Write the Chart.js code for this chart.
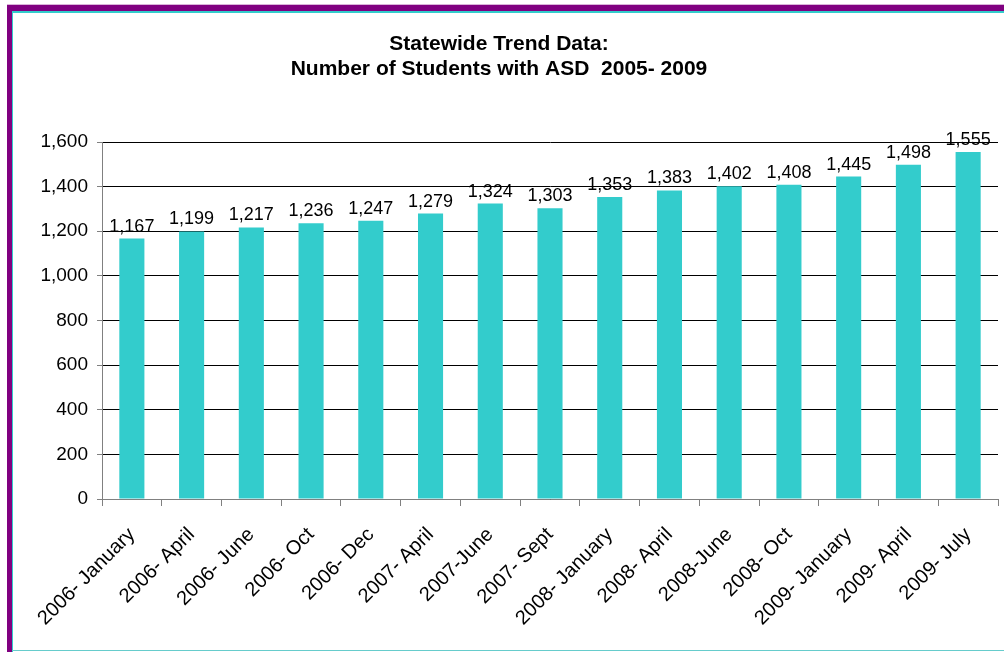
<!doctype html>
<html>
  <head>
    <meta charset="UTF-8">
    <title>Statewide Trend Data</title>
    <script src="https://cdn.jsdelivr.net/npm/chart.js@4/dist/chart.umd.min.js"></script>
    <style>
      body {
        margin: 0;
        background: #fff;
        font-family: "Liberation Sans", Arial, sans-serif;
      }
      #wrap {
        position: relative;
        width: 1004px;
        height: 652px;
        overflow: hidden;
      }
      #chart {
        position: absolute;
        left: 0;
        top: 0;
      }
      .edge { position: absolute; }
      #topLight { left: 7px; top: 4px; width: 997px; height: 1px; background: #d9b3d9; }
      #topBand { left: 7px; top: 5px; width: 997px; height: 6px; background: #800080; }
      #leftBand { left: 7px; top: 5px; width: 5px; height: 647px; background: #800080; }
      #topTeal { left: 12px; top: 11px; width: 992px; height: 2px; background: #33cccc; }
      #leftTeal { left: 12px; top: 11px; width: 1px; height: 641px; background: #33cccc; }
      #bottomTeal { left: 12px; top: 650px; width: 992px; height: 1px; background: #66cccc; }
    </style>
  </head>
  <body>
    <div id="wrap">
      <canvas id="chart" width="1004" height="652"></canvas>
      <div class="edge" id="topLight"></div>
      <div class="edge" id="topBand"></div>
      <div class="edge" id="leftBand"></div>
      <div class="edge" id="topTeal"></div>
      <div class="edge" id="leftTeal"></div>
      <div class="edge" id="bottomTeal"></div>
    </div>

    <script>
      var titleLines = ['Statewide Trend Data:', 'Number of Students with ASD  2005- 2009']
      var periods = ['2006- January', '2006- April', '2006- June', '2006- Oct', '2006- Dec',
                     '2007- April', '2007-June', '2007- Sept', '2008- January', '2008- April',
                     '2008-June', '2008- Oct', '2009- January', '2009- April', '2009- July']
      var students = [1167, 1199, 1217, 1236, 1247, 1279, 1324, 1303, 1353, 1383, 1402, 1408, 1445, 1498, 1555]
      var yMin = 0
      var yMax = 1600
      var yStep = 200

      var fontFamily = '"Liberation Sans", Arial, sans-serif'

      // value labels sitting just above each bar
      var valueLabels = {
        id: 'valueLabels',
        afterDatasetsDraw: function(chart) {
          var ctx = chart.ctx
          var meta = chart.getDatasetMeta(0)
          ctx.save()
          ctx.font = '18px ' + fontFamily
          ctx.fillStyle = '#000'
          ctx.textAlign = 'center'
          ctx.textBaseline = 'middle'
          meta.data.forEach(function(bar, i) {
            var v = chart.data.datasets[0].data[i]
            ctx.fillText(v.toLocaleString('en-US'), bar.x, bar.y - 12)
          })
          ctx.restore()
        }
      }

      var ctx = document.getElementById('chart').getContext('2d')
      var myChart = new Chart(ctx, {
        type: 'bar',
        data: {
          labels: periods,
          datasets: [{
            label: 'Students with ASD',
            data: students,
            backgroundColor: '#33cccc',
            borderWidth: 0,
            categoryPercentage: 1,
            barPercentage: 0.42
          }]
        },
        options: {
          responsive: false,
          animation: false,
          devicePixelRatio: 1,
          locale: 'en-US',
          layout: {
            padding: { left: 0, right: 6, top: 0, bottom: 0 }
          },
          plugins: {
            legend: { display: false },
            tooltip: { enabled: false },
            title: {
              display: true,
              text: titleLines,
              color: '#000',
              font: { family: fontFamily, size: 21, weight: 'bold', lineHeight: 25 / 21 },
              padding: { top: 32, bottom: 60 }
            }
          },
          scales: {
            x: {
              grid: {
                drawOnChartArea: false,
                drawTicks: true,
                tickLength: 7,
                color: '#808080'
              },
              border: { color: '#808080' },
              ticks: {
                autoSkip: false,
                maxRotation: 45,
                minRotation: 45,
                padding: 17,
                color: '#000',
                font: { family: fontFamily, size: 20 }
              },
              afterFit: function(scale) { scale.height = 153 }
            },
            y: {
              min: yMin,
              max: yMax,
              grid: {
                color: '#000',
                lineWidth: 1,
                tickLength: 5,
                tickColor: '#808080'
              },
              border: { color: '#808080' },
              ticks: {
                stepSize: yStep,
                padding: 9,
                color: '#000',
                font: { family: fontFamily, size: 19 }
              },
              afterFit: function(scale) { scale.width = 102 }
            }
          }
        },
        plugins: [valueLabels]
      })
    </script>
  </body>
</html>
